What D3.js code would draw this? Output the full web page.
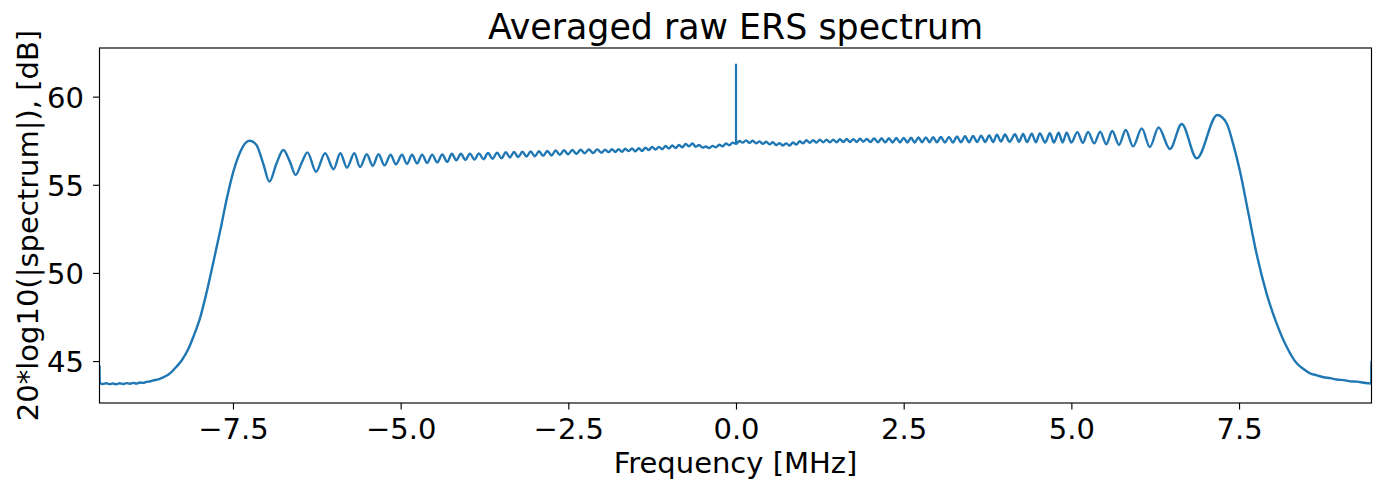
<!DOCTYPE html>
<html><head><meta charset="utf-8">
<script src="https://cdn.jsdelivr.net/npm/d3@7"></script>
<style>
body{margin:0;background:#fff}
svg{display:block}
text{font-family:"DejaVu Sans",sans-serif;fill:#000}
</style>
</head><body>
<svg id="c" width="1382" height="484"></svg>
<script>
// ---------------- data ----------------
const xTicks = [-7.5, -5, -2.5, 0, 2.5, 5, 7.5];
const yTicks = [45, 50, 55, 60];

const leftEdgeF = [-9.49,-9.485,-9.44,-9.39,-9.34,-9.29,-9.24,-9.19,-9.14,-9.09,-9.04,-8.99,-8.94,-8.89,-8.84,-8.79,-8.74,-8.69,-8.64,-8.6,-8.55,-8.5,-8.44,-8.35,-8.26,-8.17,-8.09,-7.99,-7.89,-7.79,-7.69,-7.59,-7.49,-7.39,-7.3,-7.25,-7.15,-7.05,-6.957,-6.85,-6.749,-6.65,-6.565,-6.47,-6.39,-6.26,-6.127,-6.0,-5.9,-5.8,-5.69,-5.605,-5.505,-5.416,-5.33,-5.24,-5.15,-5.07,-4.98];
const leftEdgeDb = [44.7,43.76,43.70,43.74,43.69,43.73,43.68,43.74,43.70,43.75,43.71,43.76,43.72,43.78,43.76,43.82,43.84,43.9,43.94,43.98,44.06,44.15,44.3,44.65,45.06,45.65,46.38,47.45,48.95,50.65,52.4,54.25,55.8,56.88,57.42,57.5,57.26,56.22,55.18,56.22,56.97,56.3,55.56,56.3,56.84,55.74,56.79,55.88,56.79,55.97,56.79,56.0,56.73,56.08,56.73,56.1,56.7,56.16,56.7];

// in-band ripple, sampled at its peaks and troughs (start frequency, spacing in MHz, values in dB)
const rippleStartF = [-4.905, -4.2375, -3.433, -1.95, 2.005, 3.055];
const rippleStepF  = [0.075, 0.0675, 0.062, 0.05, 0.055, 0.06];
const rippleDb = [
  [56.19,56.70,56.21,56.71,56.24,56.71,56.27,56.72,56.30],
  [56.76,56.39,56.76,56.41,56.77,56.43,56.78,56.45,56.80,56.48,56.82,56.50],
  [56.85,56.55,56.86,56.57,56.87,56.60,56.89,56.62,56.90,56.64,56.92,56.66,56.95,56.70,56.96,56.73,56.97,56.76,56.99,56.79,57.00,56.80,57.01,56.82],
  [56.99,56.85,57.02,56.86,57.02,56.87,57.04,56.91,57.06,56.90,
   57.07,56.92,57.11,56.97,57.15,57.00,57.15,57.02,57.20,57.06,
   57.23,57.09,57.26,57.13,57.32,57.18,57.35,57.16,57.26,57.11,
   57.17,57.08,57.21,57.12,57.27,57.18,57.34,57.24,57.39,57.32,
   57.48,57.39,57.52,57.38,57.50,57.35,57.46,57.32,57.44,57.29,
   57.41,57.25,57.36,57.23,57.35,57.22,57.40,57.28,57.47,57.35,
   57.53,57.38,57.53,57.39,57.56,57.41,57.56,57.41,57.56,57.41,
   57.58,57.43,57.60,57.43,57.59,57.43,57.61,57.45,57.60],
  [57.42,57.63,57.41,57.64,57.41,57.64,57.40,57.65,57.40,57.66,57.40,57.67,57.40,57.68,57.41,57.69,57.41,57.70,57.41],
  [57.71,57.40,57.72,57.40,57.74,57.41,57.76,57.41,57.77,57.42,57.79,57.43,57.80,57.43]
];

const rightEdgeF = [3.89,3.95,4.01,4.08,4.16,4.22,4.28,4.34,4.41,4.47,4.53,4.61,4.68,4.74,4.81,4.87,4.93,5.0,5.09,5.17,5.25,5.34,5.43,5.52,5.61,5.71,5.81,5.92,6.05,6.17,6.30,6.47,6.645,6.87,7.175,7.315,7.41,7.51,7.64,7.76,7.91,8.06,8.21,8.36,8.46,8.56,8.66,8.76,8.86,8.96,9.06,9.16,9.26,9.36,9.43,9.47,9.475];
const rightEdgeDb = [57.84,57.45,57.85,57.44,57.87,57.43,57.88,57.42,57.90,57.41,57.91,57.40,57.93,57.40,57.95,57.40,57.96,57.40,57.99,57.38,58.00,57.35,58.01,57.30,58.05,57.26,58.11,57.18,58.20,57.14,58.25,57.03,58.45,56.5,58.96,58.49,57.35,55.84,53.38,51.11,48.84,47.14,45.81,44.87,44.55,44.30,44.19,44.08,44.03,43.95,43.92,43.85,43.83,43.77,43.74,43.72,44.96];

const spikeF  = [0, 0];
const spikeDb = [57.35, 61.86];

const xDomain = [-9.49, 9.475];
const yDomain = [42.62, 62.76];

// ---------------- build series ----------------
const series = [];
leftEdgeF.forEach((f, i) => series.push([f, leftEdgeDb[i]]));
rippleDb.forEach((vals, s) => vals.forEach((v, i) => series.push([rippleStartF[s] + i * rippleStepF[s], v])));
rightEdgeF.forEach((f, i) => series.push([f, rightEdgeDb[i]]));
series.sort((a, b) => a[0] - b[0]);
const spike = spikeF.map((f, i) => [f, spikeDb[i]]);

// ---------------- layout ----------------
const L = 99.5, R = 1371.5, T = 48, B = 403;
const svg = d3.select("#c");
const x = d3.scaleLinear().domain(xDomain).range([L, R]);
const y = d3.scaleLinear().domain(yDomain).range([B, T]);

svg.append("defs").append("clipPath").attr("id", "clip")
  .append("rect").attr("x", L).attr("y", T).attr("width", R - L).attr("height", B - T);

const line = d3.line().x(d => x(d[0])).y(d => y(d[1])).curve(d3.curveMonotoneX);
const g = svg.append("g").attr("clip-path", "url(#clip)");
g.append("path").datum(series).attr("d", line)
  .attr("fill", "none").attr("stroke", "#1f77b4").attr("stroke-width", 2.4)
  .attr("stroke-linejoin", "round").attr("stroke-linecap", "round");
g.append("path").datum(spike).attr("d", d3.line().x(d => x(d[0])).y(d => y(d[1])))
  .attr("fill", "none").attr("stroke", "#1f77b4").attr("stroke-width", 2.2);

// axes
const fmt = d3.format(".1f");
const xa = svg.append("g").attr("transform", `translate(0,${B})`)
  .call(d3.axisBottom(x).tickValues(xTicks).tickFormat(fmt).tickSize(6.5).tickSizeOuter(0).tickPadding(9));
const ya = svg.append("g").attr("transform", `translate(${L},0)`)
  .call(d3.axisLeft(y).tickValues(yTicks).tickFormat(d3.format("d")).tickSize(6.5).tickSizeOuter(0).tickPadding(9));
[xa, ya].forEach(a => {
  a.select(".domain").remove();
  a.attr("font-family", null).attr("font-size", null);
  a.selectAll(".tick line").attr("stroke", "#000").attr("stroke-width", 1.15);
  a.selectAll(".tick text").attr("font-size", 29).attr("fill", "#000");
});
ya.selectAll(".tick text").attr("dy", "0.36em");

// frame
svg.append("rect").attr("x", L).attr("y", T).attr("width", R - L).attr("height", B - T)
  .attr("fill", "none").attr("stroke", "#000").attr("stroke-width", 1.15);

// texts
svg.append("text").attr("x", (L + R) / 2).attr("y", 39).attr("text-anchor", "middle")
  .attr("font-size", 34.8).text("Averaged raw ERS spectrum");
svg.append("text").attr("x", (L + R) / 2).attr("y", 473).attr("text-anchor", "middle")
  .attr("font-size", 29).text("Frequency [MHz]");
svg.append("text").attr("transform", `translate(38,${(T + B) / 2}) rotate(-90)`)
  .attr("text-anchor", "middle").attr("font-size", 29).text("20*log10(|spectrum|), [dB]");
</script>
</body></html>
